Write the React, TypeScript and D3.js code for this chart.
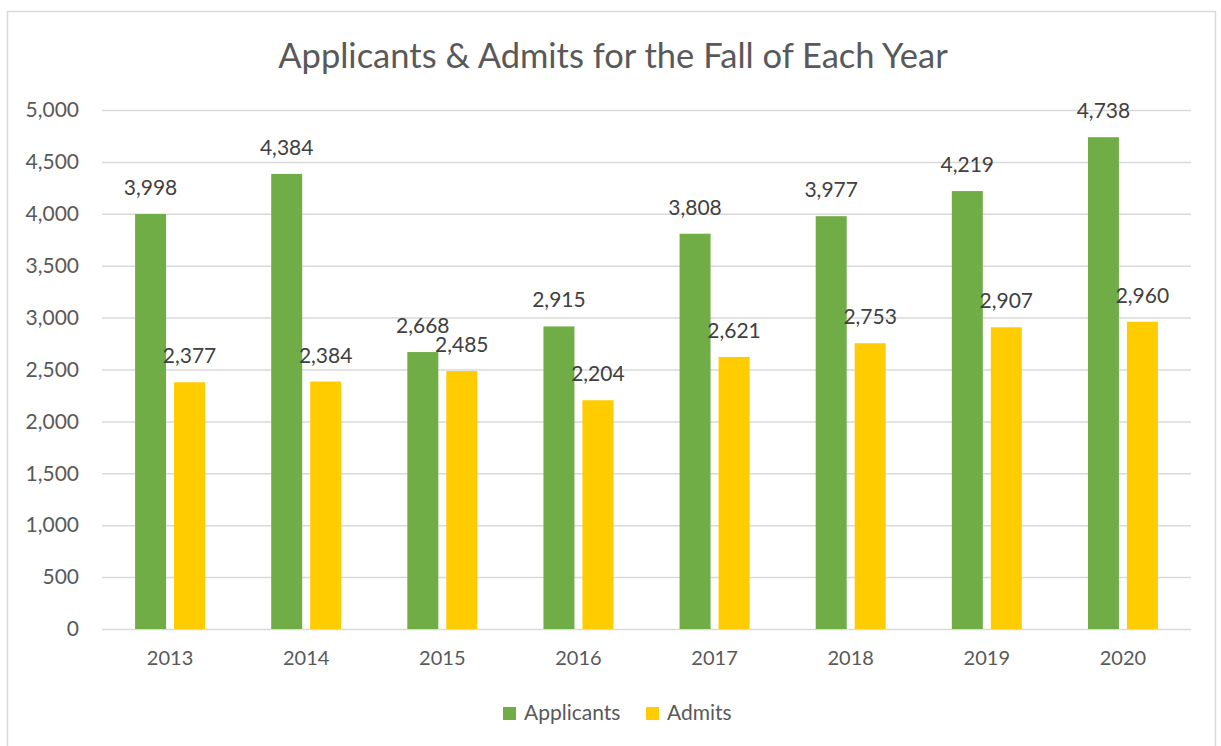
import React, { useRef, useEffect } from "react";
import { select, scaleBand, scaleLinear, axisLeft, axisBottom, format } from "d3";

const years = ["2013", "2014", "2015", "2016", "2017", "2018", "2019", "2020"];
const applicants = [3998, 4384, 2668, 2915, 3808, 3977, 4219, 4738];
const admits = [2377, 2384, 2485, 2204, 2621, 2753, 2907, 2960];
const seriesNames = ["Applicants", "Admits"];
const seriesColors = ["#70AD47", "#FFCC00"];
const yTicks = [0, 500, 1000, 1500, 2000, 2500, 3000, 3500, 4000, 4500, 5000];
const title = "Applicants & Admits for the Fall of Each Year";

const W = 1221;
const H = 746;
const FONT = "Lato, 'Open Sans', sans-serif";

function App() {
  const svgRef = useRef<SVGSVGElement>(null);

  useEffect(() => {
    const svg = select(svgRef.current);
    svg.selectAll("*").remove();

    const plot = { left: 102, right: 1191, top: 110, bottom: 629 };

    // outer chart border
    svg
      .append("rect")
      .attr("x", 7.5)
      .attr("y", 11.5)
      .attr("width", 1208)
      .attr("height", 760)
      .attr("fill", "#fff")
      .attr("stroke", "#d9d9d9")
      .attr("stroke-width", 1.5);

    svg
      .append("text")
      .attr("x", 613)
      .attr("y", 68)
      .attr("text-anchor", "middle")
      .attr("font-family", FONT)
      .attr("font-size", 34.5)
      .attr("fill", "#595959")
      .text(title);

    const x = scaleBand().domain(years).range([plot.left, plot.right]);
    const xSub = scaleBand()
      .domain(seriesNames)
      .range([x.bandwidth() * 0.243, x.bandwidth() * 0.757])
      .paddingInner(0.205);
    const y = scaleLinear().domain([0, 5000]).range([plot.bottom, plot.top]);

    const fmt = format(",");

    // gridlines + y labels
    const yAxis = axisLeft(y)
      .tickValues(yTicks)
      .tickSize(-(plot.right - plot.left))
      .tickPadding(23)
      .tickFormat((d) => fmt(d as number));
    const gy = svg
      .append("g")
      .attr("transform", `translate(${plot.left},0)`)
      .call(yAxis);
    gy.select(".domain").remove();
    gy.selectAll(".tick line").attr("stroke", "#d9d9d9").attr("stroke-width", 1.5);
    gy.selectAll(".tick text")
      .attr("font-family", FONT)
      .attr("font-size", 21)
      .attr("fill", "#595959");

    // x labels
    const xAxis = axisBottom(x).tickSize(0).tickPadding(22);
    const gx = svg
      .append("g")
      .attr("transform", `translate(0,${plot.bottom})`)
      .call(xAxis);
    gx.select(".domain").remove();
    gx.selectAll(".tick text")
      .attr("font-family", FONT)
      .attr("font-size", 20)
      .attr("fill", "#595959");

    const rows = years.map((yr, i) => ({
      year: yr,
      values: [applicants[i], admits[i]],
    }));

    const groups = svg
      .selectAll(".grp")
      .data(rows)
      .join("g")
      .attr("class", "grp")
      .attr("transform", (d) => `translate(${x(d.year)},0)`);

    groups
      .selectAll("rect")
      .data((d) => d.values.map((v, k) => ({ v, k })))
      .join("rect")
      .attr("x", (d) => xSub(seriesNames[d.k])!)
      .attr("width", xSub.bandwidth())
      .attr("y", (d) => y(d.v))
      .attr("height", (d) => y(0) - y(d.v))
      .attr("fill", (d) => seriesColors[d.k]);

    groups
      .selectAll("text")
      .data((d) => d.values.map((v, k) => ({ v, k })))
      .join("text")
      .attr("x", (d) => xSub(seriesNames[d.k])! + xSub.bandwidth() / 2)
      .attr("y", (d) => y(d.v) - 19)
      .attr("text-anchor", "middle")
      .attr("font-family", FONT)
      .attr("font-size", 21)
      .attr("fill", "#404040")
      .text((d) => fmt(d.v));

    // legend
    const legendX = [503, 646];
    const lg = svg
      .selectAll(".lg")
      .data(seriesNames)
      .join("g")
      .attr("class", "lg")
      .attr("transform", (_, i) => `translate(${legendX[i]},707)`);
    lg.append("rect")
      .attr("width", 13)
      .attr("height", 13)
      .attr("fill", (_, i) => seriesColors[i]);
    lg.append("text")
      .attr("x", 21)
      .attr("y", 13)
      .attr("font-family", FONT)
      .attr("font-size", 21)
      .attr("fill", "#595959")
      .text((d) => d);
  }, []);

  return (
    <svg
      ref={svgRef}
      width={W}
      height={H}
      style={{ position: "absolute", left: 0, top: 0, background: "#fff" }}
    />
  );
}

export default App;
